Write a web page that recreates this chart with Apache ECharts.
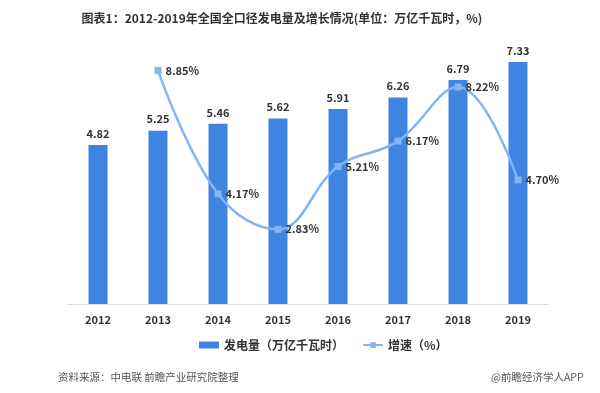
<!DOCTYPE html>
<html><head><meta charset="utf-8">
<script src="https://cdn.jsdelivr.net/npm/echarts@6/dist/echarts.min.js"></script>
<style>html,body{margin:0;padding:0;background:#fff}#c{width:600px;height:393px}</style>
</head><body><div id="c"></div>
<script>
const years = ['2012','2013','2014','2015','2016','2017','2018','2019'];
const generation = [4.82, 5.25, 5.46, 5.62, 5.91, 6.26, 6.79, 7.33];
const growth = [null, 8.85, 4.17, 2.83, 5.21, 6.17, 8.22, 4.70];
const titleText = '图表1：2012-2019年全国全口径发电量及增长情况(单位：万亿千瓦时，%)';
const sourceText = '资料来源：中电联 前瞻产业研究院整理';
const brandText = '@前瞻经济学人APP';

const chart = echarts.init(document.getElementById('c'));
const font = '"Noto Sans CJK SC", "Liberation Sans", sans-serif';
chart.setOption({
  animation: false,
  textStyle: {fontFamily: font},
  title: {text: titleText, left: 277, top: 7, textAlign: 'center',
    textStyle: {fontSize: 12, fontWeight: 'bold', color: '#333', fontFamily: font}},
  graphic: [
    {type: 'text', left: 58, top: 372, style: {text: sourceText, fontSize: 10.5, fill: '#555', fontFamily: font}},
    {type: 'text', left: 491, top: 372, style: {text: brandText, fontSize: 10.5, fill: '#555', fontFamily: font}}
  ],
  legend: {
    top: 334, left: 194,
    itemWidth: 20, itemHeight: 7, itemGap: 18,
    textStyle: {fontSize: 12, fontWeight: 'bold', color: '#333'},
    data: [{name: '发电量（万亿千瓦时）', icon: 'rect'}, {name: '增速（%）'}]
  },
  grid: {left: 68, right: 52, top: 40, bottom: 89},
  xAxis: {
    type: 'category', data: years,
    axisLine: {lineStyle: {color: '#d9d9d9'}},
    axisTick: {show: false},
    axisLabel: {fontSize: 11, fontWeight: 'bold', color: '#333', margin: 10}
  },
  yAxis: [
    {type: 'value', min: 0, max: 8, show: false, splitLine: {show: false}},
    {type: 'value', min: 0, max: 10, show: false, splitLine: {show: false}}
  ],
  series: [
    {
      name: '发电量（万亿千瓦时）', type: 'bar', data: generation, barWidth: 19,
      itemStyle: {color: '#3f84e0'},
      label: {show: true, position: 'top', fontSize: 11, fontWeight: 'bold', color: '#333', distance: 6}
    },
    {
      name: '增速（%）', type: 'line', yAxisIndex: 1, data: growth, smooth: 0.4,
      symbol: 'rect', symbolSize: 7, connectNulls: false,
      lineStyle: {color: '#82b5f3', width: 2.5},
      itemStyle: {color: '#82b5f3'},
      label: {show: true, position: 'right', distance: 4, fontSize: 11, fontWeight: 'bold', color: '#333',
        formatter: p => p.value.toFixed(2) + '%'}
    }
  ]
});
</script></body></html>
